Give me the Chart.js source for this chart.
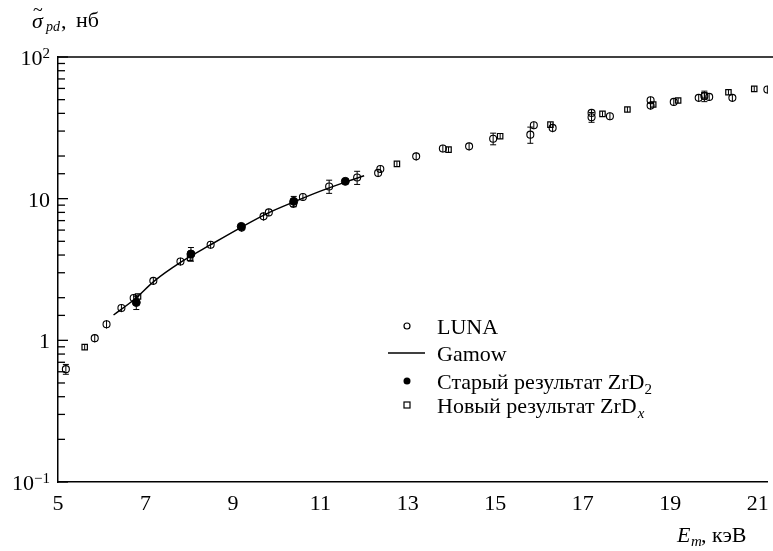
<!DOCTYPE html>
<html lang="ru">
<head>
<meta charset="UTF-8" />
<title>sigma pd</title>
<script src="https://cdn.jsdelivr.net/npm/chart.js"></script>
<style>
  body { margin: 0; background: #fff; }
  canvas { display: block; }
</style>
</head>
<body>
<canvas id="chart" width="773" height="551"></canvas>
<script>
// LUNA
const lunaE = [5.18, 5.84, 6.11, 6.45, 6.73, 7.18, 7.80, 8.49, 9.20, 9.70, 9.82, 10.38, 10.60, 11.20, 11.84, 12.32, 12.37, 13.19, 13.80, 14.40, 14.95, 15.80, 15.88, 16.31, 17.20, 17.20, 17.62, 18.55, 18.55, 19.08, 19.65, 19.78, 19.89, 20.42, 21.22];
const lunaS = [0.626, 1.036, 1.30, 1.69, 1.99, 2.63, 3.60, 4.73, 6.25, 7.50, 8.00, 9.2, 10.28, 12.2, 14.1, 15.2, 16.2, 19.9, 22.6, 23.4, 26.5, 28.3, 33.0, 31.6, 40.3, 37.6, 38.2, 49.5, 45.4, 48.2, 51.5, 52.9, 52.3, 51.5, 58.9];
const lunaErr = [0.05, 0.07, 0.09, 0.11, 0.13, 0.17, 0.23, 0.3, 0.4, 0.5, 0.5, 0.6, 0.65, 1.3, 1.5, 1.0, 1.0, 1.3, 1.4, 1.5, 2.5, 3.7, 2.1, 2.2, 2.6, 3.0, 2.4, 3.1, 2.9, 3.0, 3.2, 4.5, 3.2, 3.2, 3.7];

// Старый результат ZrD2
const oldE = [6.79, 8.04, 9.19, 10.39, 11.57];
const oldS = [1.85, 4.07, 6.37, 9.57, 13.25];
const oldErr = [0.2, 0.45, 0.35, 0.8, 0.7];

// Новый результат ZrDx
const newE = [5.61, 6.83, 8.02, 12.75, 13.93, 15.11, 16.26, 17.45, 18.02, 18.61, 19.18, 19.78, 20.33, 20.92];
const newS = [0.895, 2.04, 3.81, 17.6, 22.2, 27.6, 33.3, 39.7, 42.6, 46.2, 49.3, 53.6, 56.4, 59.6];
const newErr = [0.04, 0.09, 0.17, 0.75, 0.95, 1.2, 1.4, 1.7, 1.8, 2.0, 2.1, 2.3, 2.4, 2.5];

// Gamow
const gamowE = [6.27, 6.75, 7.2, 7.8, 8.5, 9.2, 9.8, 10.4, 11.0, 11.6, 12.0];
const gamowS = [1.51, 1.95, 2.62, 3.55, 4.75, 6.3, 7.9, 9.5, 11.3, 13.2, 14.5];

const xTicks = [5, 7, 9, 11, 13, 15, 17, 19, 21];

const SERIF = '"Liberation Serif", "Times New Roman", serif';

function pts(xs, ys) {
  return xs.map((x, i) => ({ x: x, y: ys[i] }));
}

// error bars
const errorBars = {
  id: 'errorBars',
  afterDatasetsDraw(chart) {
    const ctx = chart.ctx;
    const y = chart.scales.y;
    ctx.save();
    ctx.strokeStyle = '#000';
    ctx.lineWidth = 1;
    chart.data.datasets.forEach((ds, i) => {
      if (!ds.errors) return;
      const meta = chart.getDatasetMeta(i);
      meta.data.forEach((p, j) => {
        const e = ds.errors[j];
        if (!e) return;
        const v = ds.data[j].y;
        const y1 = y.getPixelForValue(v + e);
        const y2 = y.getPixelForValue(v - e);
        ctx.beginPath();
        ctx.moveTo(p.x, y1); ctx.lineTo(p.x, y2);
        if (y2 - y1 > 9) {
          ctx.moveTo(p.x - 3, y1); ctx.lineTo(p.x + 3, y1);
          ctx.moveTo(p.x - 3, y2); ctx.lineTo(p.x + 3, y2);
        }
        ctx.stroke();
      });
    });
    ctx.restore();
  }
};

// frame, inward ticks, labels, titles, legend
const decor = {
  id: 'decor',
  afterDraw(chart) {
    const ctx = chart.ctx;
    const a = chart.chartArea;
    const yS = chart.scales.y;
    ctx.save();
    ctx.strokeStyle = '#000';
    ctx.fillStyle = '#000';
    ctx.lineWidth = 1.5;
    ctx.beginPath();
    ctx.moveTo(a.left, a.top); ctx.lineTo(chart.width, a.top);
    ctx.stroke();

    // inward y ticks
    ctx.lineWidth = 1.3;
    yS.ticks.forEach(t => {
      const lg = Math.log10(t.value);
      const major = Math.abs(lg - Math.round(lg)) < 1e-6;
      const py = yS.getPixelForValue(t.value);
      ctx.beginPath();
      ctx.moveTo(a.left, py); ctx.lineTo(a.left + (major ? 10 : 7), py);
      ctx.stroke();
      if (!major) return;
      const n = Math.round(lg);
      ctx.textBaseline = 'alphabetic';
      ctx.textAlign = 'right';
      const rx = a.left - 8;
      if (n === 0 || n === 1) {
        ctx.font = '22px ' + SERIF;
        ctx.fillText(n === 0 ? '1' : '10', rx, py + 8);
      } else {
        const sup = n < 0 ? '\u2212' + (-n) : String(n);
        ctx.font = '15px ' + SERIF;
        ctx.fillText(sup, rx, py + 1);
        const w = ctx.measureText(sup).width;
        ctx.font = '22px ' + SERIF;
        ctx.fillText('10', rx - w, py + 8);
      }
    });

    // y title
    ctx.textAlign = 'left';
    ctx.font = 'italic 22px ' + SERIF;
    ctx.fillText('\u03c3', 32, 28);
    ctx.font = '18px ' + SERIF;
    ctx.fillText('~', 33, 16);
    ctx.font = 'italic 14px ' + SERIF;
    ctx.fillText('pd', 46, 31);
    let pw = ctx.measureText('pd').width;
    ctx.font = '22px ' + SERIF;
    ctx.fillText(',', 46 + pw + 1, 28);
    ctx.fillText('нб', 76, 27);

    // x title
    ctx.font = 'italic 22px ' + SERIF;
    ctx.fillText('E', 677, 542);
    ctx.font = 'italic 15px ' + SERIF;
    ctx.fillText('m', 691, 546);
    ctx.font = '22px ' + SERIF;
    ctx.fillText(', кэВ', 701, 542);

    // legend
    const mx = 407, tx = 437;
    const rows = [326, 353, 381, 405];
    ctx.lineWidth = 1.2;
    ctx.beginPath(); ctx.arc(mx, rows[0], 3, 0, Math.PI * 2); ctx.stroke();
    ctx.lineWidth = 1.5;
    ctx.beginPath(); ctx.moveTo(388, rows[1]); ctx.lineTo(425, rows[1]); ctx.stroke();
    ctx.beginPath(); ctx.arc(mx, rows[2], 3.5, 0, Math.PI * 2); ctx.fill();
    ctx.lineWidth = 1.2;
    ctx.strokeRect(mx - 3, rows[3] - 3, 6, 6);

    ctx.font = '22px ' + SERIF;
    ctx.fillText('LUNA', tx, rows[0] + 8);
    ctx.fillText('Gamow', tx, rows[1] + 8);
    const s1 = 'Старый результат ZrD';
    ctx.fillText(s1, tx, rows[2] + 8);
    let w = ctx.measureText(s1).width;
    ctx.font = '15px ' + SERIF;
    ctx.fillText('2', tx + w, rows[2] + 13);
    ctx.font = '22px ' + SERIF;
    const s2 = 'Новый результат ZrD';
    ctx.fillText(s2, tx, rows[3] + 8);
    w = ctx.measureText(s2).width;
    ctx.font = 'italic 15px ' + SERIF;
    ctx.fillText('x', tx + w + 1, rows[3] + 13);
    ctx.restore();
  }
};

new Chart(document.getElementById('chart'), {
  type: 'scatter',
  data: {
    datasets: [
      {
        label: 'Старый результат ZrD2',
        data: pts(oldE, oldS),
        errors: oldErr,
        pointStyle: 'circle',
        pointRadius: 4,
        backgroundColor: '#000',
        borderColor: '#000',
        borderWidth: 1
      },
      {
        label: 'LUNA',
        data: pts(lunaE, lunaS),
        errors: lunaErr,
        pointStyle: 'circle',
        pointRadius: 3.5,
        backgroundColor: 'rgba(0,0,0,0)',
        borderColor: '#000',
        borderWidth: 1.1
      },
      {
        label: 'Новый результат ZrDx',
        data: pts(newE, newS),
        errors: newErr,
        pointStyle: 'rect',
        pointRadius: 3.8,
        backgroundColor: 'rgba(0,0,0,0)',
        borderColor: '#000',
        borderWidth: 1.2
      },
      {
        label: 'Gamow',
        type: 'line',
        data: pts(gamowE, gamowS),
        showLine: true,
        borderColor: '#000',
        borderWidth: 1.5,
        pointRadius: 0,
        cubicInterpolationMode: 'monotone',
        fill: false
      }
    ]
  },
  options: {
    responsive: false,
    devicePixelRatio: 1,
    animation: false,
    layout: { padding: { top: 57, right: -5.2, bottom: 0, left: 0 } },
    plugins: {
      legend: { display: false },
      tooltip: { enabled: false }
    },
    scales: {
      x: {
        type: 'linear',
        min: 5,
        max: 21.23,
        afterBuildTicks(s) {
          s.ticks = xTicks.map(v => ({ value: v }));
        },
        afterFit(s) {
          s.height = 69;
          s.paddingRight = 0;
          s.paddingLeft = 0;
        },
        grid: { drawOnChartArea: false, drawTicks: false },
        border: { color: '#000', width: 1.5 },
        ticks: {
          color: '#000',
          padding: 9,
          maxRotation: 0,
          font: { family: SERIF, size: 22 },
          callback: v => String(v)
        }
      },
      y: {
        type: 'logarithmic',
        min: 0.1,
        max: 100,
        afterFit(s) { s.width = 58; },
        grid: { drawOnChartArea: false, drawTicks: false },
        border: { color: '#000', width: 1.5 },
        ticks: { display: false }
      }
    }
  },
  plugins: [errorBars, decor]
});
</script>
</body>
</html>
